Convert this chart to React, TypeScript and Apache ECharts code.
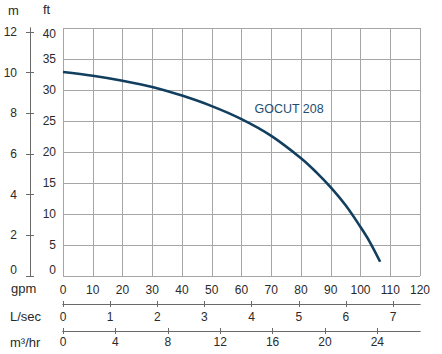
import React, { useEffect, useRef } from "react";
import * as echarts from "echarts";

const flowGpm = [0, 10, 20, 30, 40, 50, 60, 70, 80, 85, 90, 95, 100, 103, 106.6];
const headFt = [32.9, 32.3, 31.5, 30.5, 29.1, 27.4, 25.3, 22.6, 19.0, 16.8, 14.3, 11.4, 7.9, 5.6, 2.3];
const seriesName = "GOCUT 208";
const labelAt = [76, 26.9];

const meterTicks = [0, 2, 4, 6, 8, 10, 12];
const lsecTicks = [0, 1, 2, 3, 4, 5, 6, 7];
const m3hrTicks = [0, 4, 8, 12, 16, 20, 24];

const GPM_MAX = 120;
const FT_MAX = 40;
const FT_PER_M = 3.28084;
const GPM_PER_LSEC = 15.8503;
const GPM_PER_M3HR = 4.40287;

const TEXT = "#2a2a2a";
const FONT = "Liberation Sans";
const AXIS = "#6a6a6a";
const GRID = "#a6a6a6";
const CURVE = "#123f60";

export default function App() {
  const ref = useRef<HTMLDivElement>(null);
  useEffect(() => {
    const chart = echarts.init(ref.current!, null, { renderer: "svg" });
    const lbl = { color: TEXT, fontSize: 12, fontFamily: FONT };
    const secX = (max: number, ticks: number[], offset: number, inside: boolean, margin: number) => ({
      type: "value",
      min: 0,
      max,
      position: "bottom",
      offset,
      axisLine: { show: true, onZero: false, lineStyle: { color: AXIS, width: 1 } },
      axisTick: { show: true, inside, length: 3, customValues: ticks, lineStyle: { color: AXIS } },
      axisLabel: inside ? { show: false } : { ...lbl, customValues: ticks, margin },
      splitLine: { show: false },
    });
    const mY = (inside: boolean) => ({
      type: "value",
      min: 0,
      max: FT_MAX / FT_PER_M,
      position: "left",
      offset: 33,
      axisLine: { show: true, onZero: false, lineStyle: { color: AXIS, width: 1 } },
      axisTick: { show: true, inside, length: 4, customValues: meterTicks, lineStyle: { color: AXIS } },
      axisLabel: inside
        ? { show: false }
        : { ...lbl, customValues: meterTicks, margin: 13, verticalAlignMinLabel: "bottom" },
      splitLine: { show: false },
    });
    chart.setOption({
      animation: false,
      grid: { left: 63, top: 28, width: 357, height: 248, containLabel: false },
      xAxis: [
        {
          type: "value",
          min: 0,
          max: GPM_MAX,
          interval: 10,
          position: "bottom",
          axisLine: { show: false, onZero: false },
          axisTick: { show: false },
          axisLabel: { ...lbl, margin: 8 },
          splitLine: { show: true, lineStyle: { color: GRID, width: 1 } },
        },
        secX(GPM_MAX / GPM_PER_LSEC, lsecTicks, 28, false, 7),
        secX(GPM_MAX / GPM_PER_LSEC, lsecTicks, 28, true, 7),
        secX(GPM_MAX / GPM_PER_M3HR, m3hrTicks, 55, false, 5),
        secX(GPM_MAX / GPM_PER_M3HR, m3hrTicks, 55, true, 5),
      ],
      yAxis: [
        {
          type: "value",
          min: 0,
          max: FT_MAX,
          interval: 5,
          position: "left",
          axisLine: { show: false, onZero: false },
          axisTick: { show: false },
          axisLabel: { ...lbl, margin: 7, verticalAlignMinLabel: "bottom", verticalAlignMaxLabel: "top" },
          splitLine: { show: true, lineStyle: { color: GRID, width: 1 } },
        },
        mY(false),
        mY(true),
      ],
      graphic: [
        { type: "text", left: 8, top: 4, style: { text: "m", fill: TEXT, font: `13px ${FONT}` } },
        { type: "text", left: 43, top: 3, style: { text: "ft", fill: TEXT, font: `13px ${FONT}` } },
        { type: "text", left: 11, top: 282, style: { text: "gpm", fill: TEXT, font: `13px ${FONT}` } },
        { type: "text", left: 10, top: 310, style: { text: "L/sec", fill: TEXT, font: `13px ${FONT}` } },
        { type: "text", left: 10, top: 336, style: { text: "m³/hr", fill: TEXT, font: `13px ${FONT}` } },
      ],
      series: [
        {
          name: seriesName,
          type: "line",
          xAxisIndex: 0,
          yAxisIndex: 0,
          data: flowGpm.map((g, i) => [g, headFt[i]]),
          smooth: 0.35,
          showSymbol: false,
          symbol: "none",
          lineStyle: { color: CURVE, width: 2.6 },
          markPoint: {
            symbol: "circle",
            symbolSize: 0,
            data: [{ coord: labelAt }],
            label: {
              show: true,
              position: "inside",
              formatter: seriesName,
              color: "#1d4e72",
              fontSize: 12.5,
              fontFamily: FONT,
            },
          },
        },
      ],
    });
    return () => chart.dispose();
  }, []);
  return (
    <div
      ref={ref}
      style={{ position: "absolute", left: 0, top: 0, width: 442, height: 354, background: "#fff" }}
    />
  );
}
